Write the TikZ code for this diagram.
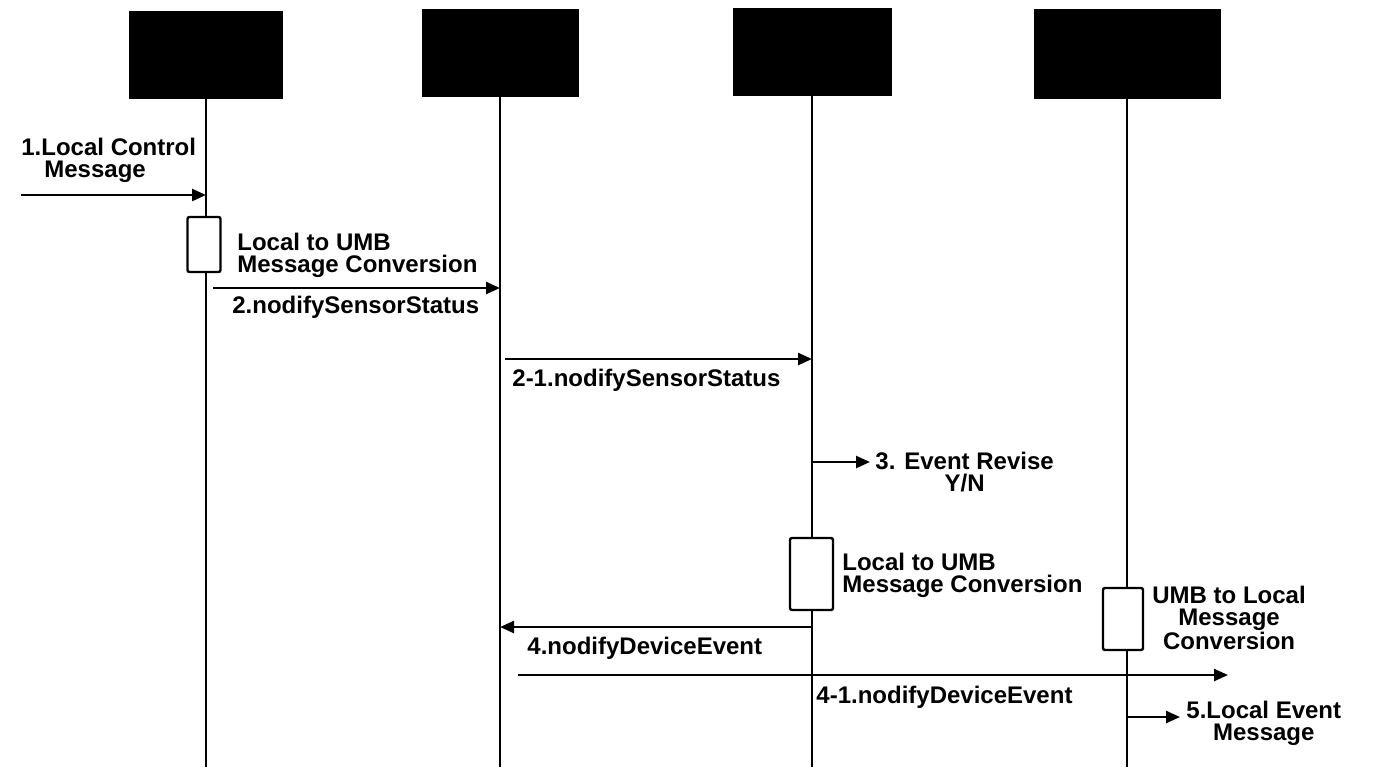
\documentclass[tikz,border=0pt]{standalone}
\usepackage{fontspec}
\setmainfont{Liberation Sans}
\usetikzlibrary{arrows.meta,positioning}

\begin{document}
\begin{tikzpicture}[x=0.5pt, y=-0.5pt,
  head/.style={draw, fill=black, minimum height=43.5pt, inner sep=0pt},
  act/.style={draw, fill=white, line width=1.2pt, rounded corners=1pt, inner sep=0pt},
  life/.style={line width=1.1pt},
  msg/.style={-{Triangle[length=7pt,width=6pt]}, line width=1.2pt},
  lbl/.style={font=\bfseries\fontsize{12}{11}\selectfont, inner sep=0pt, anchor=west}
]
\useasboundingbox (0,0) rectangle (1374,767);

% lifeline heads
\node[head, minimum width=76.5pt] (h1) at (206,54.5) {};
\node[head, minimum width=78pt] (h2) at (500,52.5) {};
\node[head, minimum width=79pt] (h3) at (812,51.5) {};
\node[head, minimum width=93pt, minimum height=44.5pt] (h4) at (1127,53.5) {};

\coordinate (bot) at (0,767);
\draw[life] (h1.south) -- (h1 |- bot);
\draw[life] (h2.south) -- (h2 |- bot);
\draw[life] (h3.south) -- (h3 |- bot);
\draw[life] (h4.south) -- (h4 |- bot);

% activation boxes
\node[act, minimum width=16.5pt, minimum height=27.5pt] (a1) at (204,244.5) {};
\node[act, minimum width=21.5pt, minimum height=36pt] (a3) at (811.5,574) {};
\node[act, minimum width=20pt, minimum height=31pt] (a4) at (1123,619) {};

% messages
\coordinate (m1) at (21,195);
\draw[msg] (m1) -- (h1 |- m1);
\node[lbl, align=left] (l1) at (21,160.5) {1.Local Control\\\hspace*{11.5pt}Message};

\node[lbl, align=left] (c1) at (237,255.5) {Local to UMB\\Message Conversion};
\coordinate (m2) at (213,288);
\draw[msg] (m2) -- (h2 |- m2);
\node[lbl] (l2) at (232,307) {2.nodifySensorStatus};

\coordinate (m21) at (505,359);
\draw[msg] (m21) -- (h3 |- m21);
\node[lbl] (l21) at (512,380) {2-1.nodifySensorStatus};

\coordinate (m3) at (870,462);
\draw[msg] (h3 |- m3) -- (m3);
\node[lbl, align=center] (l3) at (875,472.5) {3. Event Revise\\Y/N};

\node[lbl, align=left] (c3) at (842,575) {Local to UMB\\Message Conversion};
\node[lbl, align=center] (c4) at (1152,618) {UMB to Local\\Message\\Conversion};

\coordinate (m4) at (0,627);
\draw[msg] (h3 |- m4) -- (h2 |- m4);
\node[lbl] (l4) at (527,648) {4.nodifyDeviceEvent};

\coordinate (m41s) at (518,675);
\coordinate (m41e) at (1228,675);
\draw[msg] (m41s) -- (m41e);
\node[lbl] (l41) at (816,697) {4-1.nodifyDeviceEvent};

\coordinate (m5) at (1180,717);
\draw[msg] (h4 |- m5) -- (m5);
\node[lbl, align=center] (l5) at (1186,723) {5.Local Event\\Message};
\end{tikzpicture}
\end{document}
